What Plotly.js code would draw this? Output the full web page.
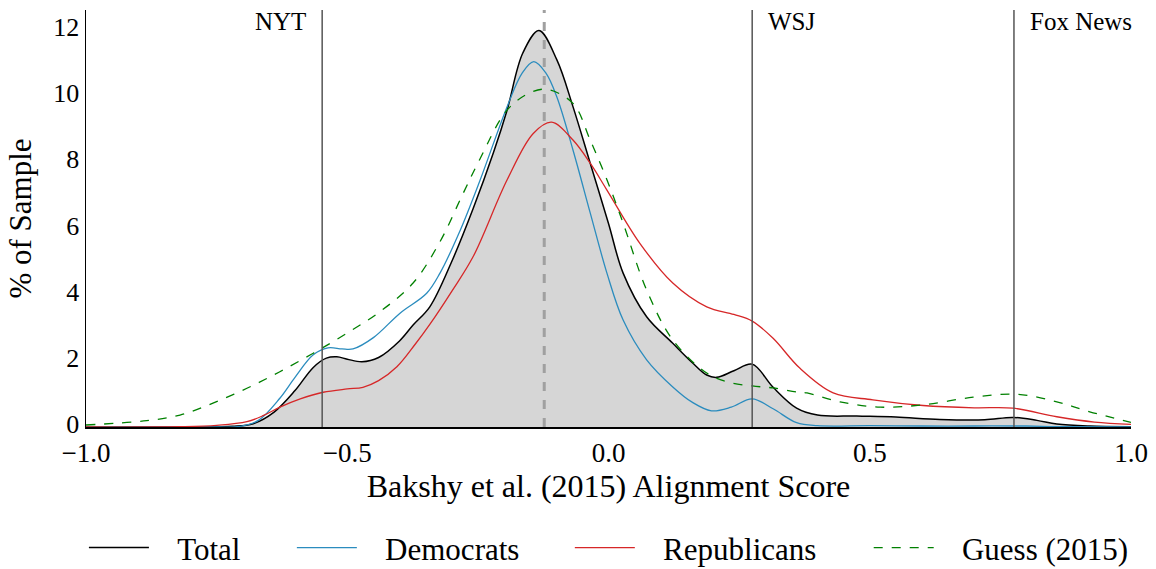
<!DOCTYPE html>
<html>
<head>
<meta charset="utf-8">
<script src="https://cdn.plot.ly/plotly-3.0.1.min.js"></script>
<style>html,body{margin:0;padding:0;background:#fff;}#chart{width:1156px;height:569px;}</style>
</head>
<body>
<div id="chart"></div>
<script>
// Total
const totalX = [-1.0,-0.8,-0.72,-0.68,-0.64,-0.6,-0.565,-0.54,-0.52,-0.5,-0.472,-0.44,-0.4,-0.374,-0.342,-0.3,-0.259,-0.22,-0.194,-0.164,-0.133,-0.099,-0.068,-0.035,0.0,0.028,0.073,0.123,0.16,0.188,0.207,0.24,0.275,0.315,0.36,0.4,0.475,0.55,0.634,0.72,0.774,0.82,0.858,0.92,1.0];
const totalY = [0,0,0.02,0.1,0.45,1.1,1.8,2.08,2.12,2.05,1.97,2.1,2.6,3.08,3.63,5.0,6.6,8.3,9.58,11.3,11.98,11.1,9.68,7.97,6.15,4.65,3.33,2.53,1.95,1.57,1.5,1.7,1.9,1.2,0.57,0.36,0.33,0.3,0.23,0.22,0.29,0.2,0.09,0.03,0.01];
// Democrats
const demX = [-1.0,-0.75,-0.705,-0.67,-0.629,-0.6,-0.565,-0.537,-0.51,-0.489,-0.45,-0.399,-0.348,-0.3225,-0.285,-0.246,-0.194,-0.165,-0.143,-0.12,-0.099,-0.068,-0.035,-0.003,0.028,0.073,0.123,0.16,0.197,0.235,0.275,0.315,0.36,0.4,0.5,0.6,0.7,0.8,0.86,1.0];
const demY = [0,0,0.02,0.2,0.87,1.5,2.18,2.39,2.36,2.36,2.7,3.44,4.04,4.65,5.9,7.45,9.68,10.7,11.04,10.7,9.98,8.37,6.47,4.65,3.23,2.03,1.21,0.75,0.49,0.6,0.85,0.55,0.13,0.04,0.04,0.03,0.03,0.03,0.01,0];
// Republicans
const repX = [-1.0,-0.82,-0.75,-0.692,-0.66,-0.629,-0.59,-0.546,-0.5,-0.47,-0.44,-0.405,-0.37,-0.342,-0.3,-0.259,-0.194,-0.144,-0.109,-0.068,-0.035,-0.003,0.06,0.123,0.188,0.24,0.275,0.315,0.366,0.43,0.506,0.602,0.7,0.774,0.858,0.93,1.0];
const repY = [0,0.01,0.05,0.16,0.35,0.6,0.85,1.05,1.15,1.2,1.4,1.82,2.5,3.1,4.1,5.15,7.47,8.87,9.21,8.67,7.97,7.16,5.55,4.35,3.63,3.4,3.2,2.68,1.78,1.03,0.82,0.65,0.58,0.57,0.31,0.15,0.08];
// Guess (2015)
const guessX = [-1.0,-0.884,-0.82,-0.757,-0.692,-0.629,-0.565,-0.501,-0.437,-0.374,-0.3225,-0.28,-0.246,-0.194,-0.15,-0.118,-0.068,-0.035,-0.003,0.028,0.073,0.123,0.188,0.23,0.275,0.315,0.36,0.38,0.443,0.52,0.602,0.698,0.782,0.858,0.921,1.0];
const guessY = [0.06,0.19,0.36,0.72,1.17,1.67,2.23,2.83,3.49,4.35,5.6,7.0,8.1,9.58,10.1,10.2,9.78,8.67,7.47,6.16,4.14,2.63,1.63,1.35,1.24,1.18,1.06,1.03,0.76,0.6,0.67,0.9,0.99,0.76,0.46,0.14];
// Outlets and sample mean
const outletNames = ["NYT", "WSJ", "Fox News"];
const outletScores = [-0.548, 0.275, 0.776];
const sampleMean = [-0.123];
// Axis ticks
const xTickVals = [-1, -0.5, 0, 0.5, 1];
const xTickText = ["\u22121.0", "\u22120.5", "0.0", "0.5", "1.0"];
const yTickVals = [0, 2, 4, 6, 8, 10, 12];

const FONT = "'Liberation Serif', 'Times New Roman', serif";
const PAD = "\u00a0\u00a0\u00a0";

const traces = [
  {x: totalX, y: totalY, type: "scatter", mode: "none", showlegend: false,
   line: {shape: "spline", smoothing: 1}, fill: "tozeroy", fillcolor: "#d6d6d6", hoverinfo: "skip"},
  {x: totalX, y: totalY, type: "scatter", mode: "lines", name: PAD + "Total", legend: "legend",
   line: {color: "#000000", width: 1.5, shape: "spline", smoothing: 1}},
  {x: demX, y: demY, type: "scatter", mode: "lines", name: PAD + "Democrats", legend: "legend2",
   line: {color: "#2b8cbe", width: 1.3, shape: "spline", smoothing: 1}},
  {x: repX, y: repY, type: "scatter", mode: "lines", name: PAD + "Republicans", legend: "legend3",
   line: {color: "#d62728", width: 1.3, shape: "spline", smoothing: 1}},
  {x: guessX, y: guessY, type: "scatter", mode: "lines", name: PAD + "Guess (2015)", legend: "legend4",
   line: {color: "#008000", width: 1.3, dash: "dash", shape: "spline", smoothing: 1}}
];

const shapes = [];
const annotations = [];
outletScores.forEach((s, i) => {
  shapes.push({type: "line", xref: "x", yref: "paper", x0: s, x1: s, y0: 0, y1: 1,
    line: {color: "#555555", width: 1.5}, layer: "above"});
  const isLeft = i === 0;
  annotations.push({xref: "x", yref: "paper", x: s, y: 1.0, yanchor: "top",
    xanchor: isLeft ? "right" : "left", xshift: isLeft ? -14 : 14, yshift: 4,
    text: outletNames[i], showarrow: false, font: {family: FONT, size: 25, color: "#000"}});
});
sampleMean.forEach(m => {
  shapes.push({type: "line", xref: "x", yref: "paper", x0: m, x1: m, y0: 0, y1: 1,
    line: {color: "#a0a0a0", width: 3, dash: "dash"}, layer: "above"});
});

const legBase = {orientation: "h", y: -0.29, yanchor: "middle", xanchor: "left",
  font: {family: FONT, size: 31}, itemwidth: 60, bgcolor: "rgba(0,0,0,0)"};

const layout = {
  width: 1156, height: 569,
  margin: {l: 86, r: 25, t: 10, b: 142, autoexpand: false},
  paper_bgcolor: "#fff", plot_bgcolor: "#fff",
  font: {family: FONT, color: "#000", size: 26},
  showlegend: true,
  xaxis: {range: [-1, 1], tickvals: xTickVals, ticktext: xTickText,
    showgrid: false, zeroline: false, showline: true, linecolor: "#000", linewidth: 1.5,
    ticks: "", tickfont: {family: FONT, size: 27}, ticklabelstandoff: 1,
    title: {text: "Bakshy et al. (2015) Alignment Score", font: {family: FONT, size: 32}, standoff: 3}},
  yaxis: {range: [0, 12.6], tickvals: yTickVals,
    showgrid: false, zeroline: false, showline: true, linecolor: "#000", linewidth: 1.5,
    ticks: "", tickfont: {family: FONT, size: 26}, ticklabelshift: -3,
    title: {text: "% of Sample", font: {family: FONT, size: 31}, standoff: 12}},
  legend: Object.assign({}, legBase, {x: -0.002}),
  legend2: Object.assign({}, legBase, {x: 0.197}),
  legend3: Object.assign({}, legBase, {x: 0.463}),
  legend4: Object.assign({}, legBase, {x: 0.749}),
  shapes: shapes,
  annotations: annotations
};

Plotly.newPlot("chart", traces, layout, {displayModeBar: false, staticPlot: true});
</script>
</body>
</html>
